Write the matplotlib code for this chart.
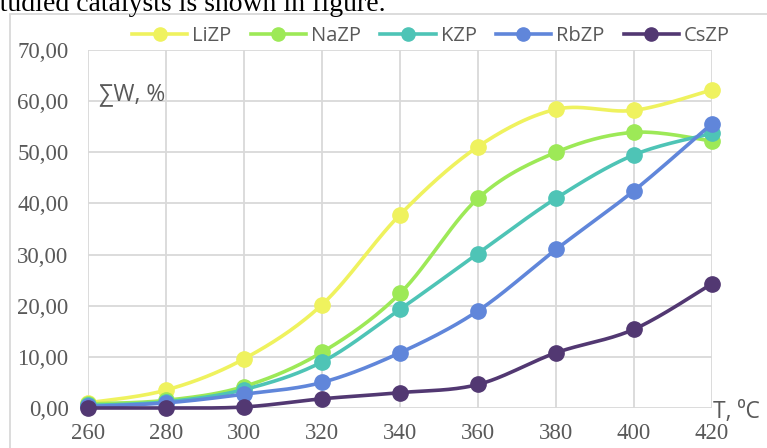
import numpy as np
import matplotlib
matplotlib.use("Agg")
import matplotlib.pyplot as plt
from matplotlib.lines import Line2D
from matplotlib.patches import Rectangle

# Temperature, degC
temperature = [260, 280, 300, 320, 340, 360, 380, 400, 420]

# Total conversion W, % for each catalyst
li_zp = [1.0, 3.5, 9.6, 20.2, 37.8, 51.1, 58.4, 58.2, 62.2]
na_zp = [0.8, 1.5, 4.2, 10.9, 22.4, 41.0, 50.0, 53.9, 52.2]
k_zp = [0.5, 1.2, 3.6, 9.0, 19.3, 30.2, 41.0, 49.5, 53.7]
rb_zp = [0.3, 1.0, 2.7, 5.0, 10.8, 19.0, 31.0, 42.5, 55.6]
cs_zp = [0.0, 0.0, 0.2, 1.8, 3.0, 4.6, 10.8, 15.4, 24.3]

series_names = ["LiZP", "NaZP", "KZP", "RbZP", "CsZP"]
series_values = [li_zp, na_zp, k_zp, rb_zp, cs_zp]
series_colors = ["#EFF25E", "#9DE957", "#4EC4B6", "#6086DA", "#523872"]

y_ticks = [0, 10, 20, 30, 40, 50, 60, 70]
y_tick_labels = ["0,00", "10,00", "20,00", "30,00", "40,00", "50,00", "60,00", "70,00"]

GRID = "#D9D9D9"
TEXT = "#595959"


def smooth_curve(x, y, steps=30):
    """Cubic Bezier smoothing through every point (Catmull-Rom style)."""
    x = np.asarray(x, float)
    y = np.asarray(y, float)
    px = np.concatenate([[x[0]], x, [x[-1]]])
    py = np.concatenate([[y[0]], y, [y[-1]]])
    t = np.linspace(0, 1, steps)[:, None]
    xs, ys = [], []
    for i in range(1, len(px) - 2):
        p0 = np.array([px[i], py[i]])
        p3 = np.array([px[i + 1], py[i + 1]])
        c1 = p0 + (np.array([px[i + 1], py[i + 1]]) - np.array([px[i - 1], py[i - 1]])) / 6
        c2 = p3 - (np.array([px[i + 2], py[i + 2]]) - p0) / 6
        b = ((1 - t) ** 3) * p0 + 3 * ((1 - t) ** 2) * t * c1 + 3 * (1 - t) * t ** 2 * c2 + t ** 3 * p3
        xs.append(b[:, 0])
        ys.append(b[:, 1])
    return np.concatenate(xs), np.concatenate(ys)


W, H = 767, 448
fig = plt.figure(figsize=(W / 100, H / 100), dpi=100)

# Outer chart frame (runs off the right and bottom edges)
fig.patches.append(Rectangle((10 / W, -0.1), 1.2, (H - 14) / H + 0.1,
                             transform=fig.transFigure, fill=False,
                             edgecolor=GRID, linewidth=1.3))

# Caption line above the chart, partly cut off by the top edge
fig.text(386 / W, 1 - 11 / H, "studied catalysts is shown in figure.",
         family="Liberation Serif", fontsize=20, color="black",
         ha="right", va="baseline")

ax = fig.add_axes([88 / W, 1 - 408 / H, (712 - 88) / W, (408 - 50) / H])
ax.set_xlim(260, 420)
ax.set_ylim(0, 70)
for s in ax.spines.values():
    s.set_visible(False)
ax.set_xticks(temperature)
ax.set_yticks(y_ticks)
ax.set_yticklabels(y_tick_labels)
ax.grid(True, color=GRID, linewidth=1.3)
ax.set_axisbelow(True)
ax.tick_params(length=0, labelsize=16.5, labelcolor=TEXT)
ax.tick_params(axis="x", pad=11)
ax.tick_params(axis="y", pad=14)
for lab in ax.get_xticklabels() + ax.get_yticklabels():
    lab.set_family("Liberation Serif")

handles = []
for name, vals, col in zip(series_names, series_values, series_colors):
    sx, sy = smooth_curve(temperature, vals)
    ax.plot(sx, sy, color=col, linewidth=2.6, solid_capstyle="round", clip_on=False)
    ax.plot(temperature, vals, linestyle="none", marker="o", markersize=11,
            color=col, clip_on=False)
    handles.append(Line2D([], [], color=col, linewidth=2.6, marker="o",
                          markersize=9.5, label=name))

fig.legend(handles=handles, loc="center", bbox_to_anchor=(431 / W, 1 - 36 / H),
           ncol=5, frameon=False, prop={"family": "Open Sans", "size": 14.5},
           labelcolor=TEXT, handlelength=2.75, handletextpad=0.25,
           columnspacing=0.95, borderpad=0)

fig.text(99 / W, 1 - 94 / H, "∑W, %", family=["Open Sans", "DejaVu Sans"],
         fontsize=16.5, color=TEXT, ha="left", va="center")
fig.text(713 / W, 1 - 412 / H, "T, ⁰C", family=["Open Sans", "DejaVu Sans"],
         fontsize=16.5, color=TEXT, ha="left", va="center")

fig.savefig("out.png", dpi=100)
